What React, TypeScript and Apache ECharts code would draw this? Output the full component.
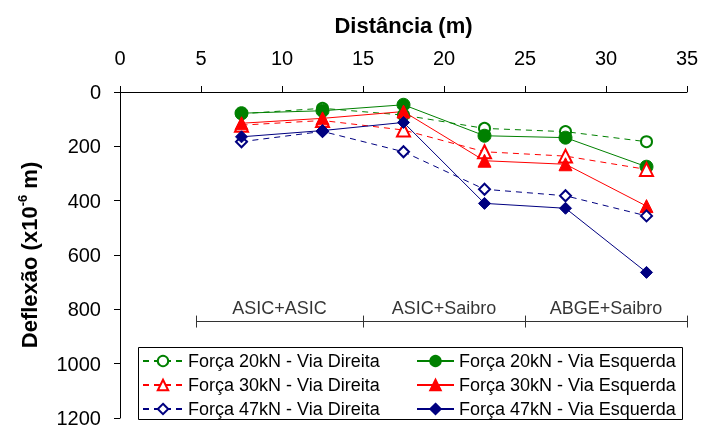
import React, { useEffect, useRef } from "react";
import * as echarts from "echarts";

const distances = [7.5, 12.5, 17.5, 22.5, 27.5, 32.5];
const d20 = [80, 60, 85, 134, 146, 183];
const e20 = [78, 69, 47, 161, 168, 275];
const d30 = [122, 105, 140, 220, 236, 285];
const e30 = [115, 97, 72, 253, 266, 420];
const d47 = [183, 145, 220, 358, 382, 456];
const e47 = [165, 142, 112, 410, 428, 664];
const xTicks = [0, 35, 5];
const yTicks = [0, 1200, 200];
const zoneNames = ["ASIC+ASIC", "ASIC+Saibro", "ABGE+Saibro"];
const zoneBounds = [4.7, 15, 25, 35];
const zoneLineY = 845;
const zoneLabelY = 795;
const zoneTick = 22;

const FONT = "'Liberation Sans', Arial, sans-serif";
const GREEN = "#008000";
const RED = "#FF0000";
const NAVY = "#000080";

function pts(vals: number[]) {
  return distances.map((x, i) => [x, vals[i]]);
}

export default function App() {
  const ref = useRef<HTMLDivElement>(null);
  useEffect(() => {
    if (!ref.current) return;
    const chart = echarts.init(ref.current, undefined, { renderer: "svg" });

    const mk = (name: string, vals: number[], color: string, symbol: string, size: number, dashed: boolean) => ({
      name,
      type: "line",
      data: pts(vals),
      symbol,
      symbolSize: size,
      lineStyle: { color, width: 1, type: dashed ? [6, 5] : "solid" },
      itemStyle: { color, borderColor: color, borderWidth: 1 },
      emphasis: { disabled: true },
    });

    const markData: any[] = [
      [{ coord: [zoneBounds[0], zoneLineY] }, { coord: [zoneBounds[zoneBounds.length - 1], zoneLineY] }],
      ...zoneBounds.map((b) => [{ coord: [b, zoneLineY - zoneTick] }, { coord: [b, zoneLineY + zoneTick] }]),
    ];

    const zoneLabelData = zoneNames.map((n, i) => ({
      name: n,
      value: [(zoneBounds[i] + zoneBounds[i + 1]) / 2, zoneLabelY],
    }));

    const legendCommon = {
      orient: "vertical",
      top: 352,
      padding: 0,
      itemGap: 6,
      itemHeight: 13,
      textStyle: { fontFamily: FONT, fontSize: 18, color: "#000", lineHeight: 18 },
      selectedMode: false,
    };

    chart.setOption({
      animation: false,
      textStyle: { fontFamily: FONT },
      grid: { left: 120, right: 19, top: 92, bottom: 9, containLabel: false },
      xAxis: {
        type: "value",
        position: "top",
        min: xTicks[0],
        max: xTicks[1],
        interval: xTicks[2],
        name: "Distância (m)",
        nameLocation: "middle",
        nameGap: 56,
        nameTextStyle: { fontFamily: FONT, fontSize: 22, fontWeight: "bold", color: "#000" },
        axisLine: { lineStyle: { color: "#000", width: 1 } },
        axisTick: { show: true, length: 6, inside: false, lineStyle: { color: "#000" } },
        axisLabel: { fontFamily: FONT, fontSize: 20, color: "#000", margin: 24, showMaxLabel: true },
        splitLine: { show: false },
      },
      yAxis: {
        type: "value",
        inverse: true,
        min: yTicks[0],
        max: yTicks[1],
        interval: yTicks[2],
        name: "{a|Deflexão (x10}{b|-6}{a| m)}",
        nameLocation: "middle",
        nameGap: 78,
        nameRotate: 90,
        nameTextStyle: {
          color: "#000",
          rich: {
            a: { fontFamily: FONT, fontSize: 22, fontWeight: "bold", color: "#000", lineHeight: 26 },
            b: { fontFamily: FONT, fontSize: 13, fontWeight: "bold", color: "#000", verticalAlign: "top", lineHeight: 26, padding: [0, 0, 10, 0] },
          },
        },
        axisLine: { lineStyle: { color: "#000", width: 1 } },
        axisTick: { show: true, length: 6, inside: false, lineStyle: { color: "#000" } },
        axisLabel: { fontFamily: FONT, fontSize: 20, color: "#000", margin: 19, formatter: (v: number) => String(v), showMaxLabel: true },
        splitLine: { show: false },
      },
      legend: [
        {
          ...legendCommon,
          left: 142,
          itemWidth: 40,
          data: ["Força 20kN - Via Direita", "Força 30kN - Via Direita", "Força 47kN - Via Direita"],
        },
        {
          ...legendCommon,
          left: 416,
          itemWidth: 37,
          data: ["Força 20kN - Via Esquerda", "Força 30kN - Via Esquerda", "Força 47kN - Via Esquerda"],
        },
      ],
      graphic: [
        {
          type: "rect",
          left: 138,
          top: 347,
          shape: { width: 544, height: 72 },
          style: { fill: "#fff", stroke: "#000", lineWidth: 1 },
          z: 0,
          silent: true,
        },
      ],
      series: [
        {
          name: "zones",
          type: "scatter",
          data: zoneLabelData,
          symbolSize: 0,
          silent: true,
          label: {
            show: true,
            position: "inside",
            formatter: "{b}",
            fontFamily: FONT,
            fontSize: 18,
            color: "#000",
          },
          markLine: {
            silent: true,
            symbol: ["none", "none"],
            label: { show: false },
            lineStyle: { color: "#333", width: 1, type: "solid" },
            emphasis: { disabled: true },
            data: markData,
          },
        },
        mk("Força 20kN - Via Direita", d20, GREEN, "emptyCircle", 11, true),
        mk("Força 20kN - Via Esquerda", e20, GREEN, "circle", 13, false),
        mk("Força 30kN - Via Direita", d30, RED, "emptyTriangle", 13, true),
        mk("Força 30kN - Via Esquerda", e30, RED, "triangle", 13, false),
        mk("Força 47kN - Via Direita", d47, NAVY, "emptyDiamond", 11, true),
        mk("Força 47kN - Via Esquerda", e47, NAVY, "diamond", 12, false),
      ],
    });
    return () => chart.dispose();
  }, []);
  return <div ref={ref} style={{ position: "fixed", left: 0, top: 0, width: 706, height: 428 }} />;
}
